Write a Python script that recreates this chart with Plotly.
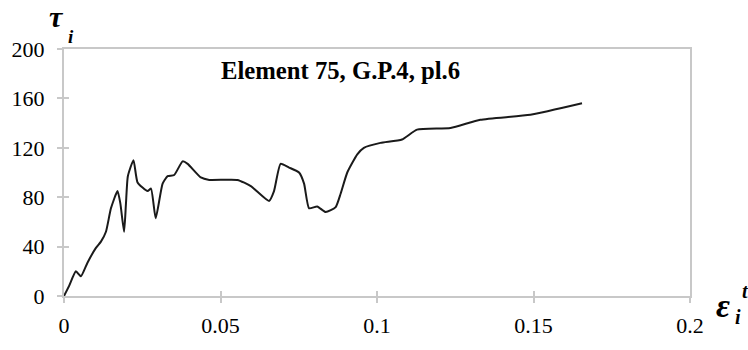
import plotly.graph_objects as go

strain = [0, 0.0016, 0.0038, 0.0054, 0.0075, 0.0102, 0.0118, 0.0134, 0.0150, 0.0171,
          0.0180, 0.0192, 0.0198, 0.0204, 0.0222, 0.0235, 0.0267, 0.0278, 0.0293, 0.0315,
          0.0331, 0.0352, 0.0379, 0.0395, 0.0437, 0.0464, 0.0554, 0.0597, 0.0655, 0.0671,
          0.0692, 0.0719, 0.0751, 0.0767, 0.0783, 0.0809, 0.0836, 0.0868, 0.0884, 0.0905,
          0.0937, 0.0958, 0.1011, 0.1080, 0.1128, 0.1235, 0.1330, 0.1490, 0.1655]
stress = [0, 8, 20, 16, 27, 39, 44, 52, 71, 85,
          75, 52, 75, 97, 110, 92, 85, 87, 63, 91,
          97, 98, 109, 107, 96, 94, 94, 89, 77, 85,
          107, 104, 100, 91, 71, 72.5, 68, 72, 83, 100,
          114.7, 120, 124, 126.7, 134.7, 136, 142.7, 146.7, 156]

x_ticks = [0, 0.05, 0.1, 0.15, 0.2]
x_labels = ["0", "0.05", "0.1", "0.15", "0.2"]
y_ticks = [0, 40, 80, 120, 160, 200]
y_labels = ["0", "40", "80", "120", "160", "200"]

serif = "Liberation Serif"
axcol = "#c8c8c8"

fig = go.Figure()
fig.add_trace(go.Scatter(x=strain, y=stress, mode="lines",
                         line=dict(color="#1a1a1a", width=2, shape="spline", smoothing=0.5),
                         showlegend=False, hoverinfo="skip"))

common_x = dict(range=[0, 0.2], showgrid=False, zeroline=False)
common_y = dict(range=[0, 200], showgrid=False, zeroline=False)

fig.update_layout(
    width=748, height=350,
    margin=dict(l=63, r=58, t=49, b=50),
    paper_bgcolor="white", plot_bgcolor="white",
    font=dict(family=serif),
    xaxis=dict(**common_x, tickvals=x_ticks, ticktext=x_labels,
               ticks="outside", ticklen=5, tickcolor=axcol, tickwidth=2,
               ticklabelstandoff=4,
               showline=True, linecolor=axcol, linewidth=2, mirror=True,
               tickfont=dict(family=serif, size=22, color="black")),
    yaxis=dict(**common_y, tickvals=y_ticks, ticktext=y_labels,
               ticks="outside", ticklen=5, tickcolor=axcol, tickwidth=2,
               ticklabelstandoff=8,
               showline=True, linecolor=axcol, linewidth=2, mirror=True,
               tickfont=dict(family=serif, size=22, color="black")),
    xaxis2=dict(**common_x, overlaying="x", tickvals=x_ticks, showticklabels=False,
                ticks="inside", ticklen=5, tickcolor=axcol, tickwidth=2, side="bottom"),
    yaxis2=dict(**common_y, overlaying="y", tickvals=y_ticks, showticklabels=False,
                ticks="inside", ticklen=5, tickcolor=axcol, tickwidth=2, side="left"),
)
fig.add_trace(go.Scatter(x=[None], y=[None], xaxis="x2", yaxis="y2", showlegend=False))


def label(text, x, y, size):
    fig.add_annotation(text=text, xref="paper", yref="paper", x=x, y=y,
                       xanchor="center", yanchor="middle", showarrow=False,
                       font=dict(family=serif, size=size, color="black"))


label("<b>Element 75, G.P.4, pl.6</b>", 0.442, 0.912, 24.7)
# axis titles
label("<b><i>τ</i></b>", -0.012, 1.13, 30)
label("<b><i>i</i></b>", 0.011, 1.05, 19)
label("<b><i>ε</i></b>", 1.0526, -0.04, 34)
label("<b><i>t</i></b>", 1.088, 0.02, 20)
label("<b><i>i</i></b>", 1.077, -0.085, 20)

fig.write_html("out.html")
